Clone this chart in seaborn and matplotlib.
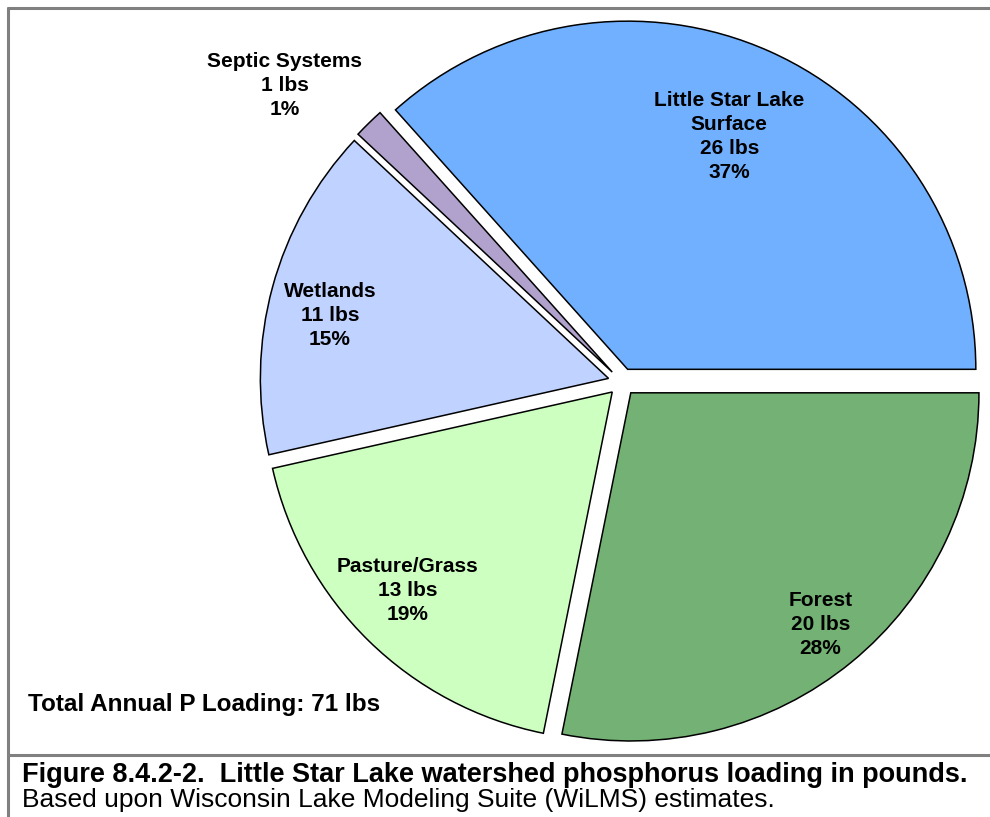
import numpy as np
import seaborn as sns
import matplotlib.pyplot as plt

sns.set_theme(style="white")
plt.rcParams['font.family'] = ['Liberation Sans', 'DejaVu Sans']
plt.rcParams['text.color'] = 'black'

# data, clockwise from 3 o'clock
categories = ["Forest", "Pasture/Grass", "Wetlands", "Septic Systems", "Little Star Lake\nSurface"]
pounds = [20, 13, 11, 1, 26]
pct_labels = ["28%", "19%", "15%", "1%", "37%"]
colors = ["#74B174", "#CCFFC0", "#C0D2FF", "#B0A2CC", "#70B0FF"]

# label placement (radius fraction, angle nudge in degrees)
label_dist = [0.86, 0.82, 0.82, 1.25, 0.73]
label_nudge = [0, -1.5, 2.5, 4.5, 0.5]

fig = plt.figure(figsize=(9.9, 8.17), dpi=100)

# pie axes, radius 1 with limits +-1.1
ax = fig.add_axes([0.2414, 0.0636, 0.7737, 0.9376])
wedges, _ = ax.pie(pounds, colors=colors, startangle=0, counterclock=False,
                   explode=[0.04] * len(pounds),
                   wedgeprops=dict(edgecolor="black", linewidth=1.1))
ax.set_xlim(-1.1, 1.1)
ax.set_ylim(-1.1, 1.1)
ax.axis("off")

for w, cat, lb, pct, d, nd in zip(wedges, categories, pounds, pct_labels, label_dist, label_nudge):
    mid = np.deg2rad((w.theta1 + w.theta2) / 2 + nd)
    cx, cy = w.center
    ax.text(cx + d * np.cos(mid), cy + d * np.sin(mid), f"{cat}\n{lb} lbs\n{pct}",
            ha="center", va="center", fontsize=15, fontweight="bold",
            linespacing=1.32, clip_on=False)

fig.text(28 / 990, 1 - 705 / 817, "Total Annual P Loading: 71 lbs", ha="left", va="center",
         fontsize=17.5, fontweight="bold")

# frame lines
frame_col = "#808080"
fig.add_artist(plt.Line2D([8 / 990, 8 / 990], [0, 1 - 8 / 817], color=frame_col, lw=2.2))
fig.add_artist(plt.Line2D([8 / 990, 1], [1 - 8 / 817, 1 - 8 / 817], color=frame_col, lw=2.2))
fig.add_artist(plt.Line2D([8 / 990, 1], [1 - 755 / 817, 1 - 755 / 817], color=frame_col, lw=2.2))

fig.text(22 / 990, 1 - 775 / 817,
         "Figure 8.4.2-2.  Little Star Lake watershed phosphorus loading in pounds.",
         ha="left", va="center", fontsize=19.5, fontweight="bold")
fig.text(22 / 990, 1 - 800 / 817,
         "Based upon Wisconsin Lake Modeling Suite (WiLMS) estimates.",
         ha="left", va="center", fontsize=19)

fig.savefig("out.png", dpi=100)
